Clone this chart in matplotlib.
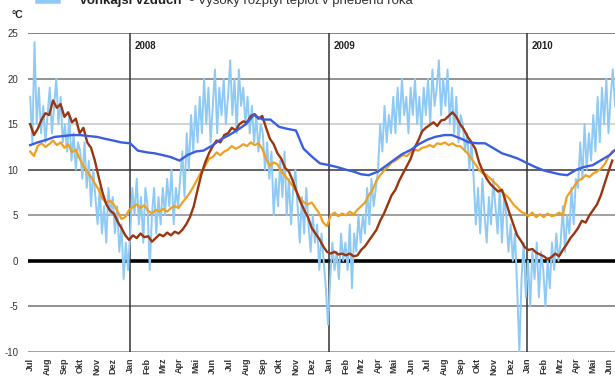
import matplotlib
matplotlib.use("Agg")
import matplotlib.pyplot as plt
import pandas as pd

# outdoor air, one reading every 4 days from 2007-07-01 (one row per month)
outdoor = [
    18, 13, 24, 15, 19, 14, 17, 13,
    16, 19, 14, 17, 20, 15, 18, 13,
    15, 12, 16, 11, 14, 10, 13,
    12, 9, 13, 8, 11, 6, 10, 7,
    4, 8, 3, 6, 2, 8, 5, 7,
    3, 6, 1, 4, -2, 2, -1,
    3, 8, 5, 9, 4, 7, 2, 8,
    6, -1, 5, 8, 3, 7, 4,
    8, 5, 9, 6, 10, 4, 8, 6,
    9, 12, 7, 14, 10, 16, 12, 17,
    13, 18, 14, 20, 15, 19, 13,
    17, 21, 14, 19, 16, 20, 15, 18,
    22, 16, 20, 14, 21, 17, 19, 15,
    18, 14, 17, 13, 16, 12, 15,
    14, 10, 13, 9, 12, 5, 9, 6,
    11, 7, 12, 5, 9, 4, 8, 10,
    6, 2, 7, 3, 8, 4, 1,
    5, 2, 4, -1, 3, 0, -3, -7,
    -2, 2, -1, 1, -2, 3, 0, 2,
    -1, 4, -3, 3, 1, 5, 2,
    5, 3, 8, 4, 9, 6, 8,
    10, 15, 12, 17, 13, 16, 14, 18,
    14, 19, 15, 20, 16, 18, 14, 19,
    16, 20, 15, 18, 14, 19, 16,
    20, 15, 21, 17, 19, 22, 16, 20,
    17, 21, 15, 19, 14, 18, 13, 16,
    15, 12, 14, 10, 13, 9, 4,
    8, 3, 9, 5, 2, 7, 4, 9,
    6, 3, 8, 2, 7, 5, 1,
    4, 0, 3, -3, -10, -2, 2, -4,
    0, -5, 1, -2, 2, -4, 1, -1,
    -5, 0, -3, 2, -1, 3, 0,
    2, 6, 1, 5, 3, 8, 4, 9,
    8, 13, 9, 15, 10, 14, 11,
    16, 12, 18, 13, 19, 15, 20, 14,
    18, 21, 17,
]

# weekly readings from 2007-07-01 (one row per month)
brown = [
    15.0, 13.8, 14.5, 15.5, 16.2, 16.0, 17.6, 16.8, 17.2, 15.8, 16.3, 15.2, 15.6,
    14.0, 14.6, 13.0, 12.4, 11.0, 9.2, 7.5, 6.2, 5.5, 5.2, 4.3, 3.6, 2.8,
    2.3, 2.8, 2.5, 3.0, 2.6, 2.7, 2.1, 2.5, 2.9, 2.7, 3.1, 2.8, 3.2,
    3.0, 3.4, 4.0, 4.8, 6.0, 7.8, 9.5, 10.8, 11.8, 12.6, 13.2, 13.0, 13.8,
    14.0, 14.6, 14.3, 15.0, 15.3, 15.2, 15.9, 16.1, 15.6, 15.9, 14.6, 13.4, 12.8,
    11.8, 11.2, 10.2, 9.8, 8.8, 7.6, 6.5, 5.6, 4.8, 3.6, 3.0, 2.4, 1.6,
    1.0, 0.8, 1.0, 0.7, 0.8, 0.6, 0.8, 0.5, 0.6, 1.2, 1.6, 2.2, 2.8,
    3.4, 4.4, 5.2, 6.2, 7.2, 7.8, 8.8, 9.6, 10.4, 11.2, 12.4, 13.2, 14.2,
    14.6, 14.9, 15.2, 14.8, 15.4, 15.5, 15.9, 16.3, 15.8, 15.0, 14.4, 13.6, 13.0,
    12.3, 10.8, 9.8, 9.0, 8.4, 8.0, 7.6, 7.8, 6.5, 5.2, 4.0, 2.8, 2.2,
    1.5, 1.2, 1.3, 0.9, 0.7, 0.5, 0.2, 0.4, 0.8, 0.5, 1.2, 1.8, 2.5,
    3.0, 3.6, 4.4, 4.2, 5.0, 5.6, 6.2, 7.2, 8.5, 9.8, 11.0,
]
orange = [
    12.0, 11.5, 12.6, 12.9, 12.5, 12.8, 13.2, 12.7, 13.0, 12.4, 12.8, 11.9, 12.2,
    11.2, 10.4, 9.8, 9.2, 8.5, 7.8, 6.8, 6.4, 6.6, 6.2, 5.4, 4.6, 4.8,
    5.6, 5.9, 6.2, 5.8, 6.1, 5.5, 5.2, 5.6, 5.4, 5.7, 5.4, 5.8, 6.0,
    5.8, 6.4, 6.9, 7.5, 8.2, 9.0, 9.8, 10.4, 11.2, 11.4, 11.9, 11.6, 12.0,
    12.2, 12.6, 12.3, 12.5, 12.8, 12.6, 13.0, 12.7, 12.9, 12.3, 11.2, 10.4, 10.8,
    10.6, 9.8, 9.3, 8.8, 8.2, 7.6, 6.8, 6.4, 6.2, 6.4, 5.8, 5.2, 4.2,
    3.8, 5.0, 5.3, 4.9, 5.2, 5.0, 5.4, 5.1, 5.6, 6.0, 6.4, 7.2, 7.8,
    8.8, 9.4, 9.9, 10.3, 10.8, 11.0, 11.3, 11.6, 11.5, 11.9, 12.2, 12.1, 12.4,
    12.5, 12.7, 12.5, 12.9, 12.8, 13.0, 12.7, 12.9, 12.6, 12.6, 12.2, 11.8, 11.2,
    10.6, 10.0, 9.6, 9.4, 9.0, 8.6, 8.2, 7.6, 7.2, 6.8, 6.2, 5.8, 5.4,
    5.2, 4.9, 5.3, 4.8, 5.1, 4.8, 5.2, 4.9, 5.0, 5.3, 5.0, 7.0, 7.6,
    8.2, 8.8, 9.0, 9.4, 9.2, 9.6, 9.8, 10.1, 10.6, 11.4, 12.0,
]

# semi-monthly readings (1st and 16th) from 2007-07-01 to 2010-06-16
blue = [
    12.7, 13.0, 13.3, 13.6, 13.7, 13.8, 13.8, 13.7, 13.6, 13.4, 13.2, 13.0,
    12.9, 12.1, 11.9, 11.8, 11.6, 11.4, 11.0, 11.6, 12.0, 12.1, 12.7, 13.3,
    13.8, 14.3, 15.0, 16.0, 15.5, 15.5, 14.7, 14.5, 14.3, 12.3, 11.4, 10.7,
    10.5, 10.3, 10.0, 9.8, 9.5, 9.4, 9.8, 10.4, 11.1, 11.7, 12.2, 12.8,
    13.3, 13.6, 13.8, 13.8, 13.4, 13.0, 12.9, 12.9, 12.3, 11.8, 11.5, 11.2,
    10.7, 10.3, 9.9, 9.7, 9.5, 9.4, 10.0, 10.3, 10.5, 11.0, 11.6, 12.4,
]

month_labels = ["Jul", "Aug", "Sep", "Okt", "Nov", "Dez", "Jan", "Feb", "Mrz", "Apr", "Mai", "Jun"]
years = [2008, 2009, 2010]
y_ticks = [25, 20, 15, 10, 5, 0, -5, -10]
grid_colors = {25: "#777777", 20: "#8a8a8a", 15: "#cfcfcf", 10: "#555555",
               5: "#999999", 0: "#000000", -5: "#888888", -10: "#9a9a9a"}

outdoor_dates = pd.date_range("2007-07-01", periods=len(outdoor), freq="4D")
weekly_dates = pd.date_range("2007-07-01", periods=len(brown), freq="7D")
blue_dates = pd.date_range("2007-07-01", "2010-06-16", freq="SMS")

plt.rcParams["font.family"] = ["Liberation Sans", "DejaVu Sans"]

fig = plt.figure(figsize=(6.15, 3.81), dpi=100)
ax = fig.add_axes([28 / 615, 1 - 352 / 381, 1 - 28 / 615, (352 - 33) / 381])

for val in y_ticks:
    ax.axhline(val, color=grid_colors[val], lw=2.6 if val == 0 else 1.3, zorder=1)
for yr in years:
    ax.axvline(pd.Timestamp(f"{yr}-01-01"), color="#333333", lw=1.1, zorder=1)
    ax.text(pd.Timestamp(f"{yr}-01-01") + pd.Timedelta(days=8), 23.6, str(yr),
            fontsize=7, fontweight="bold", color="#222222", va="center", zorder=5)

ax.plot(outdoor_dates, outdoor, color="#8ecaf5", lw=1.4, zorder=2)
ax.plot(weekly_dates, orange, color="#f0a01e", lw=1.6, zorder=3)
ax.plot(weekly_dates, brown, color="#9a3510", lw=1.7, zorder=3)
ax.plot(blue_dates, blue, color="#3a5ede", lw=1.7, zorder=4)

ax.set_xlim(pd.Timestamp("2007-06-27"), pd.Timestamp("2010-06-11"))
ax.set_ylim(-10, 25)
ax.set_yticks(y_ticks)
ax.set_yticklabels([str(v) for v in y_ticks], fontsize=7, color="#333333")

month_starts = pd.date_range("2007-07-01", "2010-06-01", freq="MS")
ax.set_xticks(month_starts)
ax.set_xticklabels([month_labels[(d.month - 7) % 12] for d in month_starts],
                   rotation=90, fontsize=6.5, fontweight="bold", color="#333333")
ax.tick_params(axis="both", length=0)
ax.tick_params(axis="y", pad=7)
ax.tick_params(axis="x", pad=4)
for spine in ax.spines.values():
    spine.set_visible(False)

fig.text(12 / 615, 1 - 15 / 381, "°C", fontsize=7.5, fontweight="bold", color="#222222",
         ha="left", va="center")

# legend entry, partly above the top edge
fig.add_artist(plt.Line2D([38 / 615, 58 / 615], [1 - 1 / 381, 1 - 1 / 381],
                          color="#8ecaf5", lw=4, transform=fig.transFigure))
fig.text(79 / 615, 1 - 4 / 381, "Vonkajší vzduch", fontsize=9.5, fontweight="bold",
         color="#222222", va="baseline")
fig.text(186 / 615, 1 - 4 / 381, " - Vysoký rozptyl teplôt v priebehu roka", fontsize=9.5,
         color="#333333", va="baseline")

fig.savefig("out.png", dpi=100)
